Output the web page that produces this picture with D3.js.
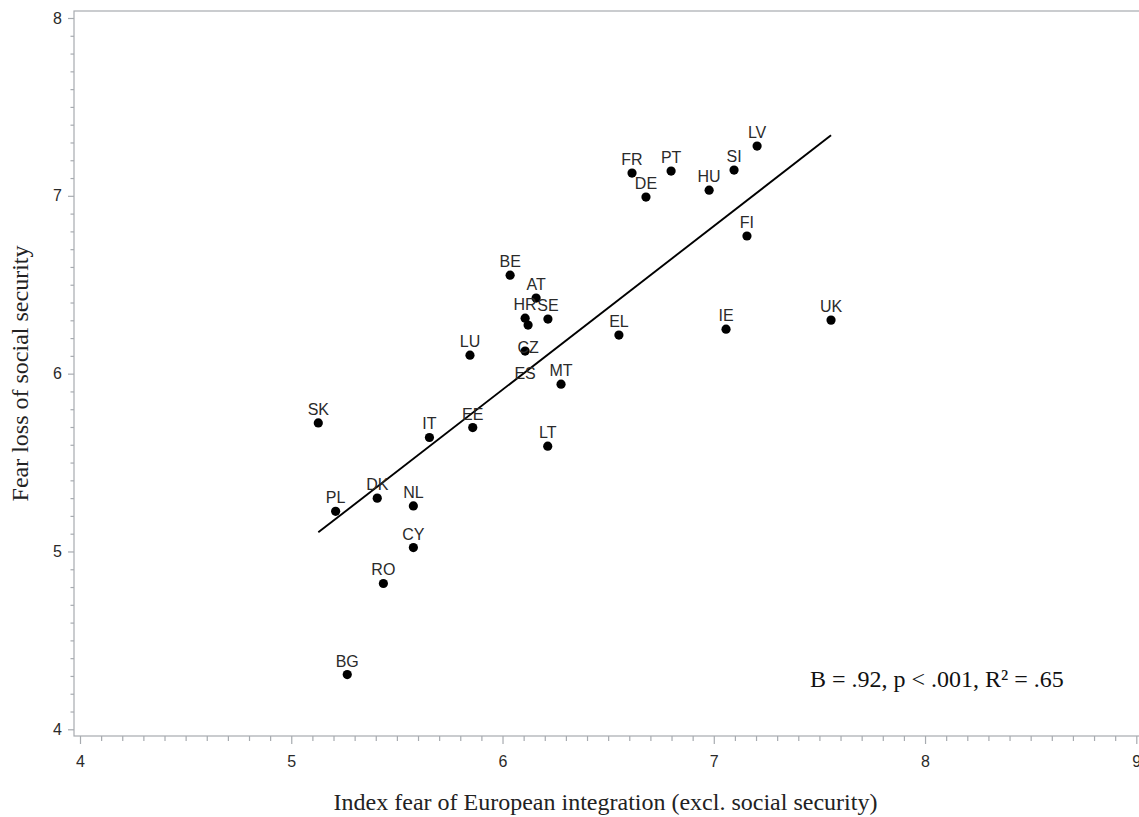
<!DOCTYPE html>
<html>
<head>
<meta charset="utf-8">
<script src="https://cdn.jsdelivr.net/npm/d3@7"></script>
<style>
  html, body { margin: 0; padding: 0; background: #fff; }
  svg { display: block; }
</style>
</head>
<body>
<svg id="chart" width="1139" height="817"></svg>
<script>
// ---- Data ----
const countries = ["LV","SI","HU","PT","FR","DE","FI","UK","IE","EL","BE","AT","HR","CZ","SE","ES","LU","MT","EE","LT","IT","SK","DK","PL","NL","CY","RO","BG"];
const fearIntegration = [7.205,7.096,6.978,6.798,6.613,6.679,7.157,7.555,7.058,6.551,6.036,6.159,6.107,6.121,6.215,6.107,5.846,6.277,5.859,6.214,5.654,5.128,5.407,5.210,5.578,5.578,5.436,5.265];
const fearSocial = [7.280,7.145,7.032,7.139,7.128,6.993,6.774,6.301,6.250,6.217,6.554,6.425,6.312,6.273,6.307,6.127,6.104,5.941,5.697,5.592,5.641,5.723,5.300,5.226,5.256,5.022,4.820,4.308];
const xTicks = [4,5,6,7,8,9];
const yTicks = [4,5,6,7,8];
const regressionSlope = 0.92;
const statsText = "B = .92, p < .001, R\u00B2 = .65";
const xTitle = "Index fear of European integration (excl. social security)";
const yTitle = "Fear loss of social security";
const labelsBelow = ["CZ","ES"]; // labels that the reference places under their marker

// ---- Layout ----
const svg = d3.select("#chart");
const plot = {left: 74, top: 11, right: 1145, bottom: 736};
const x = d3.scaleLinear().domain([4, 9]).range([80, 1136.3]);
const y = d3.scaleLinear().domain([4, 8]).range([729.3, 18]);
const axisColor = "#a7abb0";
const sans = "'Liberation Sans', Arial, sans-serif";
const serif = "'Liberation Serif', 'Times New Roman', serif";

// frame (top + left + bottom; right edge is outside the picture)
svg.append("rect")
  .attr("x", plot.left).attr("y", plot.top)
  .attr("width", plot.right - plot.left).attr("height", plot.bottom - plot.top)
  .attr("fill", "none").attr("stroke", axisColor).attr("stroke-width", 1.2);

// minor ticks
const xMinor = d3.range(40, 91).map(d => d / 10).filter(v => !xTicks.includes(v));
const yMinor = d3.range(40, 81).map(d => d / 10).filter(v => !yTicks.includes(v));

const gxMinor = svg.append("g").attr("transform", `translate(0,${plot.bottom})`)
  .call(d3.axisBottom(x).tickValues(xMinor).tickSize(5).tickFormat(""));
const gx = svg.append("g").attr("transform", `translate(0,${plot.bottom})`)
  .call(d3.axisBottom(x).tickValues(xTicks).tickSize(8).tickPadding(12).tickFormat(d3.format("d")));
const gyMinor = svg.append("g").attr("transform", `translate(${plot.left},0)`)
  .call(d3.axisLeft(y).tickValues(yMinor).tickSize(3.5).tickFormat(""));
const gy = svg.append("g").attr("transform", `translate(${plot.left},0)`)
  .call(d3.axisLeft(y).tickValues(yTicks).tickSize(6).tickPadding(6).tickFormat(d3.format("d")));

[gx, gy, gxMinor, gyMinor].forEach(g => {
  g.select(".domain").remove();
  g.selectAll(".tick line").attr("stroke", axisColor).attr("stroke-width", 1.2);
  g.selectAll(".tick text").attr("fill", "#2a2a2a").style("font-family", sans).style("font-size", "16px");
});

// regression line: slope B through the means of the data
const mx = d3.mean(fearIntegration), my = d3.mean(fearSocial);
const intercept = my - regressionSlope * mx;
const xExt = d3.extent(fearIntegration);
const line = d3.line().x(d => x(d)).y(d => y(intercept + regressionSlope * d));
svg.append("path")
  .datum(xExt)
  .attr("d", line)
  .attr("fill", "none").attr("stroke", "#000").attr("stroke-width", 1.9);

// points
const pts = countries.map((c, i) => ({c, x: fearIntegration[i], y: fearSocial[i]}));
svg.append("g").selectAll("circle").data(pts).join("circle")
  .attr("cx", d => x(d.x)).attr("cy", d => y(d.y)).attr("r", 4.6)
  .attr("fill", "#000");

svg.append("g").selectAll("text").data(pts).join("text")
  .attr("x", d => x(d.x))
  .attr("y", d => y(d.y) + (labelsBelow.includes(d.c) ? 28 : -8))
  .attr("text-anchor", "middle")
  .attr("fill", "#2a2a2a")
  .style("font-family", sans).style("font-size", "16px")
  .text(d => d.c);

// stats annotation
svg.append("text")
  .attr("x", 810).attr("y", 687)
  .attr("fill", "#111")
  .style("font-family", serif).style("font-size", "24px")
  .text(statsText);

// axis titles
svg.append("text")
  .attr("x", 605.5).attr("y", 810)
  .attr("text-anchor", "middle")
  .attr("fill", "#222")
  .style("font-family", serif).style("font-size", "24px")
  .text(xTitle);

svg.append("text")
  .attr("transform", "translate(28,373.5) rotate(-90)")
  .attr("text-anchor", "middle")
  .attr("fill", "#222")
  .style("font-family", serif).style("font-size", "24px")
  .text(yTitle);
</script>
</body>
</html>
